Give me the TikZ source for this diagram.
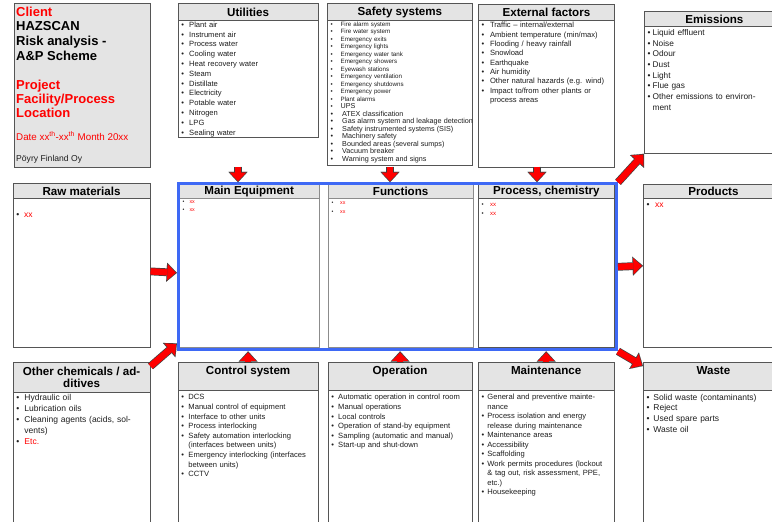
\documentclass[tikz,border=0pt]{standalone}
\usepackage{fontspec}
\setmainfont{Liberation Sans}
\usetikzlibrary{arrows.meta, positioning}

\definecolor{hdrGray}{RGB}{228,228,228}
\definecolor{lineGray}{RGB}{85,85,85}
\definecolor{innerGray}{RGB}{140,140,140}
\definecolor{frameBlue}{RGB}{62,105,245}
\definecolor{txtGray}{RGB}{30,30,30}

\newcommand\fs[2]{\fontsize{#1}{#2}\selectfont}
\newcommand\bw{0.9em}
\newcommand\fitm[1]{\noindent\makebox[\bw][l]{\textbullet}#1}
\newcommand\itm[1]{\par\fitm{#1}}
\newcommand\cnt[1]{\par\noindent\hspace*{\bw}#1}
\newcommand\xx{\textcolor{red}{xx}}

\tikzset{
  box/.style={draw=lineGray, line width=0.8pt, fill=white, anchor=north west, inner sep=0pt},
  hdr/.style={box, fill=hdrGray, font=\bfseries\fs{11.6}{13}},
  hdrLow/.style={hdr, text height=12pt, text depth=16pt},
  itemlist/.style={anchor=base west, inner xsep=3.5pt, inner ysep=0pt, text width=170pt, align=left, text=txtGray},
  ttl/.style={anchor=base west, inner sep=0pt, font=\bfseries\fs{13}{15}},
  flow/.style={draw=red, line width=6.4pt, shorten >=1.2pt,
    -{Triangle[width=16pt, length=8.4pt, line width=0.1pt]},
    preaction={draw=black!75, line width=7.8pt, shorten >=0pt,
      -{Triangle[width=19pt, length=10.4pt, line width=0.1pt]}}}
}

\begin{document}
\begin{tikzpicture}[x=1pt, y=-1pt]
\useasboundingbox (0,0) rectangle (772,522);

% title block
\node[box, fill=hdrGray, minimum width=136pt, minimum height=163.5pt] (client) at (13.5,3.3) {};
\node[ttl, text=red] (ttlClient) at (16,16.4) {Client};
\node[ttl] (ttlHaz) at (16,30.8) {HAZSCAN};
\node[ttl] (ttlRisk) at (16,45.4) {Risk analysis -};
\node[ttl] (ttlScheme) at (16,60) {A\&P Scheme};
\node[ttl, text=red] (ttlProject) at (16,89.4) {Project};
\node[ttl, text=red] (ttlFacility) at (16,103.4) {Facility/Process};
\node[ttl, text=red] (ttlLocation) at (16,117.4) {Location};
\node[ttl, text=red, font=\fs{9.8}{11}] (ttlDate) at (16,140) {Date xx\textsuperscript{th}-xx\textsuperscript{th} Month 20xx};
\node[ttl, text=txtGray, font=\fs{8.6}{10}] (ttlCompany) at (16,161) {Pöyry Finland Oy};

% top row
\node[box, minimum width=140pt, minimum height=134pt] (util) at (177.7,3.3) {};
\node[hdr, minimum width=140pt, minimum height=17pt] (utilHead) at (util.north west) {Utilities};
\node[itemlist, font=\fs{7.6}{9.8}] (utilList) at (177.7,27.3) {\renewcommand\bw{1.03em}%
  \fitm{Plant air}\itm{Instrument air}\itm{Process water}\itm{Cooling water}
  \itm{Heat recovery water}\itm{Steam}\itm{Distillate}\itm{Electricity}
  \itm{Potable water}\itm{Nitrogen}\itm{LPG}\itm{Sealing water}};

\node[box, minimum width=145pt, minimum height=162pt] (safe) at (327,3.3) {};
\node[hdr, minimum width=145pt, minimum height=17pt] (safeHead) at (safe.north west) {Safety systems};
\node[itemlist, font=\fs{6.2}{7.5}] (safeList) at (327,26.2) {\renewcommand\bw{1.6em}%
  \fitm{Fire alarm system}\itm{Fire water system}\itm{Emergency exits}\itm{Emergency lights}
  \itm{Emergency water tank}\itm{Emergency showers}\itm{Eyewash stations}
  \itm{Emergency ventilation}\itm{Emergency shutdowns}\itm{Emergency power}\itm{Plant alarms}
  \itm{\fs{7.2}{7.5}UPS}\itm{\fs{7.2}{7.5}ATEX classification}
  \itm{Gas alarm system and leakage detection}\itm{Safety instrumented systems (SIS)}
  \itm{Machinery safety}\itm{Bounded areas (several sumps)}\itm{Vacuum breaker}
  \itm{Warning system and signs}};

\node[box, minimum width=136pt, minimum height=163pt] (ext) at (478,3.5) {};
\node[hdr, minimum width=136pt, minimum height=16.5pt] (extHead) at (ext.north west) {External factors};
\node[itemlist, font=\fs{7.6}{9.4}] (extList) at (478,27.6) {\renewcommand\bw{1.1em}%
  \fitm{Traffic -- internal/external}\itm{Ambient temperature (min/max)}
  \itm{Flooding / heavy rainfall}\itm{Snowload}\itm{Earthquake}\itm{Air humidity}
  \itm{Other natural hazards (e.g. wind)}\itm{Impact to/from other plants or}\cnt{process areas}};

\node[box, minimum width=140pt, minimum height=142pt] (emis) at (644,11) {};
\node[hdr, minimum width=140pt, minimum height=15pt] (emisHead) at (emis.north west) {Emissions};
\node[itemlist, font=\fs{8.3}{10.7}] (emisList) at (644,35.3) {\renewcommand\bw{0.6em}%
  \fitm{Liquid effluent}\itm{Noise}\itm{Odour}\itm{Dust}\itm{Light}\itm{Flue gas}
  \itm{Other emissions to environ-}\cnt{ment}};

% middle row
\node[box, minimum width=137pt, minimum height=163.4pt] (raw) at (12.7,183.3) {};
\node[hdr, minimum width=137pt, minimum height=14.7pt] (rawHead) at (raw.north west) {Raw materials};
\node[itemlist, font=\fs{8.5}{10.7}] (rawList) at (12.7,217.6) {\fitm{\xx}};

\node[box, draw=innerGray, minimum width=139.5pt, minimum height=163pt] (mainEq) at (179,183.5) {};
\node[hdr, draw=innerGray, minimum width=139.5pt, minimum height=14.5pt] (mainEqHead) at (mainEq.north west) {Main Equipment};
\node[itemlist, font=\fs{5.3}{8}] (mainEqList) at (179,203.6) {\renewcommand\bw{1.3em}\fitm{\xx}\itm{\xx}};

\node[box, draw=innerGray, minimum width=144.5pt, minimum height=163pt] (func) at (328,183.5) {};
\node[hdr, draw=innerGray, minimum width=144.5pt, minimum height=14.5pt] (funcHead) at (func.north west) {Functions};
\node[itemlist, font=\fs{5.3}{8.7}] (funcList) at (328,204.9) {\renewcommand\bw{1.6em}\fitm{\xx}\itm{\xx}};

\node[box, minimum width=136pt, minimum height=163pt] (proc) at (478,183.5) {};
\node[hdr, minimum width=136pt, minimum height=14.5pt] (procHead) at (proc.north west) {Process, chemistry};
\node[itemlist, font=\fs{6}{9.8}] (procList) at (478,206.1) {\renewcommand\bw{1.4em}\fitm{\xx}\itm{\xx}};

\node[draw=frameBlue, line width=3pt, anchor=north west, inner sep=0pt,
      minimum width=438pt, minimum height=166pt] (frame) at (177,182.3) {};

\node[box, minimum width=140pt, minimum height=162.7pt] (prod) at (643,184) {};
\node[hdr, minimum width=140pt, minimum height=14.3pt] (prodHead) at (prod.north west) {Products};
\node[itemlist, font=\fs{8.5}{10.7}] (prodList) at (643,207.7) {\renewcommand\bw{1em}\fitm{\xx}};

% bottom row
\node[box, minimum width=137pt, minimum height=170pt] (chem) at (12.7,362.3) {};
\node[hdr, align=center, font=\bfseries\fs{11.6}{12.6}, minimum width=137pt, minimum height=29.4pt] (chemHead) at (chem.north west) {Other chemicals / ad-\\ditives};
\node[itemlist, font=\fs{8.5}{11}] (chemList) at (12.7,400) {\renewcommand\bw{0.95em}%
  \fitm{Hydraulic oil}\itm{Lubrication oils}\itm{Cleaning agents (acids, sol-}\cnt{vents)}
  \itm{\textcolor{red}{Etc.}}};

\node[box, minimum width=140pt, minimum height=170pt] (ctrl) at (177.7,362) {};
\node[hdrLow, minimum width=140pt] (ctrlHead) at (ctrl.north west) {Control system};
\node[itemlist, font=\fs{7.6}{9.6}] (ctrlList) at (177.7,399.9) {\renewcommand\bw{0.93em}%
  \fitm{DCS}\itm{Manual control of equipment}\itm{Interface to other units}
  \itm{Process interlocking}\itm{Safety automation interlocking}\cnt{(interfaces between units)}
  \itm{Emergency interlocking (interfaces}\cnt{between units)}\itm{CCTV}};

\node[box, minimum width=144pt, minimum height=170pt] (oper) at (327.7,362) {};
\node[hdrLow, minimum width=144pt] (operHead) at (oper.north west) {Operation};
\node[itemlist, font=\fs{7.6}{9.6}] (operList) at (327.7,399.9) {%
  \fitm{Automatic operation in control room}\itm{Manual operations}\itm{Local controls}
  \itm{Operation of stand-by equipment}\itm{Sampling (automatic and manual)}
  \itm{Start-up and shut-down}};

\node[box, minimum width=135.5pt, minimum height=170pt] (maint) at (478,362) {};
\node[hdrLow, minimum width=135.5pt] (maintHead) at (maint.north west) {Maintenance};
\node[itemlist, font=\fs{7.6}{9.5}] (maintList) at (478,399.9) {\renewcommand\bw{0.75em}%
  \fitm{General and preventive mainte-}\cnt{nance}
  \itm{Process isolation and energy}\cnt{release during maintenance}
  \itm{Maintenance areas}\itm{Accessibility}\itm{Scaffolding}
  \itm{Work permits procedures (lockout}\cnt{\& tag out, risk assessment, PPE,}\cnt{etc.)}
  \itm{Housekeeping}};

\node[box, minimum width=140pt, minimum height=170pt] (waste) at (643,362) {};
\node[hdrLow, minimum width=140pt] (wasteHead) at (waste.north west) {Waste};
\node[itemlist, font=\fs{8.5}{10.7}] (wasteList) at (643,400) {\renewcommand\bw{0.8em}%
  \fitm{Solid waste (contaminants)}\itm{Reject}\itm{Used spare parts}\itm{Waste oil}};

% arrows
\coordinate (utilDrop) at (238,166.5);
\coordinate (safeDrop) at (390,166.5);
\coordinate (extDrop) at (537,166.5);
\draw[flow] (utilDrop) -- (utilDrop |- frame.north);
\draw[flow] (safeDrop) -- (safeDrop |- frame.north);
\draw[flow] (extDrop) -- (extDrop |- frame.north);
\draw[flow] ([yshift=-6pt]raw.east) -- ([yshift=-6pt]frame.west);
\draw[flow] (frame.east) -- (prod.west);
\draw[flow] (frame.north east) -- (emis.south west);
\draw[flow] (frame.south east) -- ([yshift=-4pt]waste.north west);
\draw[flow] ([yshift=-4pt]chem.north east) -- ([yshift=8pt]frame.south west);
\draw[flow] (ctrl.north) -- (ctrl.north |- frame.south);
\draw[flow] (oper.north) -- (oper.north |- frame.south);
\draw[flow] (maint.north) -- (maint.north |- frame.south);

\end{tikzpicture}
\end{document}
